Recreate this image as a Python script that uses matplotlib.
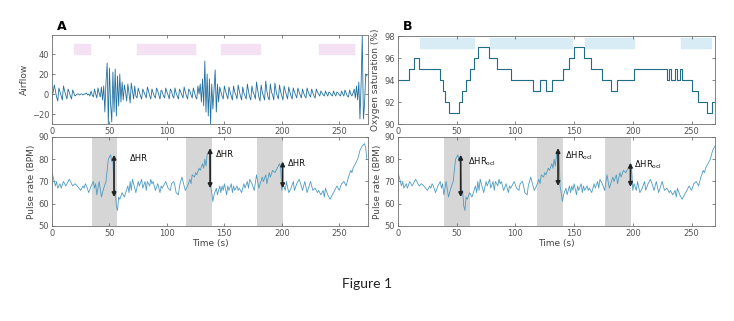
import matplotlib.pyplot as plt
import numpy as np

# airflow, one value per second from t=0
airflow = [-6, 2, 9, 3, -3, -7, 6, 2, -2, -6, 8, 3, -1, -5, 5, 2, -2, -5, 4, 1,
           -2, -1, 0, 0, -1, 0, 0, -1, 0, 0, 1, -1, 0, -2,
           3, -1, -3, 5, 0, -4, 6, 1, -3, 7, -6,
           8, -18, 12, 31, -30, 26, -10, -28, 22, -18, 25, -22, 18, -12, 20, -8, 12, -6,
           9, 2, -7, 10, 1, -9, 11, 3, -5, 8, -2, -4,
           6, 2, -2, -5, 5, 2, -1, -4, 7, 3, -2, -5, 5, 1, -2, -4, 6, 3, -1, -5,
           4, 2, -2, -4, 6, 2, -1, -5, 5, 3, -2, -4, 6, 1, -2, -5, 5, 2, -1, -4,
           7, 2, -2, -5, 5, 3, -1, -4, 6, 2,
           -3, -5, 8, 0, 10, -8, 15, -12, 33, -18, 20, -22, 15, -30, 10, -15, 5, 24, -18, 10, -8,
           7, 2, -2, -5, 8, 3, -1, -5, 7, 2, -2, -6, 8, 2, -1, -5, 9, 3, -2, -6,
           7, 1, -2, -5, 10, 3, -3, -6, 8, 2, -1, -5, 12, 4, -3, -7, 9, 2, -2, -6,
           13, 3, -3, -6, 10, 2, -1, -6, 11, 3, -2, -5, 9, 2, -2, -6, 8, 3, -1, -5,
           7, 2, -2, -5, 6, 2, -1, -4, 6, 2, -1, -4, 5, 1, -2, -4, 6, 2, -1, -3,
           5, 1, -2, -4, 5,
           2, 0, -2, 3, 1, -1, -2, 3, 0, -2, 2, 1, -1, -2, 3, 0, -2, 2, 1, -1,
           -2, 3, 0, -2, 4, 1, -2, -3, 4, 0, -2, 1,
           5, -4, 8, -6, 12, -25, 10, 58, -25, -10, 20, 18]

# pulse rate (BPM)
pulse_t = [0, 3, 4, 5, 7, 8, 10, 12, 15, 17, 18, 20, 22, 25, 27, 28, 29, 30, 32, 34, 36,
           37, 38, 39, 41, 43, 45, 47, 49, 51, 52, 53, 54, 55, 56, 57, 58, 59, 61, 63, 66,
           67, 68, 69, 70, 71, 73, 75, 76, 78, 79, 81, 82, 83, 85, 86, 87, 88, 90, 92, 94,
           95, 96, 98, 99, 101, 103, 104, 106, 107, 108, 110, 111, 113, 114, 116, 118,
           120, 121, 122, 124, 125, 126, 128, 129, 131, 132, 133, 134, 135, 136, 137,
           138, 139, 140, 141, 143, 144, 146, 147, 148, 149, 150, 152, 153, 154, 156,
           157, 158, 159, 161, 162, 163, 165, 167, 168, 170, 171, 172, 174, 176, 178,
           180, 183, 184, 186, 187, 189, 190, 192, 194, 196, 198, 199, 200, 201, 203,
           204, 206, 208, 210, 211, 213, 215, 217, 218, 220, 222, 225, 227, 229, 231,
           232, 234, 236, 237, 238, 240, 242, 244, 246, 248, 250, 252, 254, 256, 258,
           260, 261, 262, 264, 266, 268, 270, 272, 273, 274]
pulse_bpm = [74, 68, 70, 67, 69, 67, 70, 68, 71, 69, 68, 69, 68, 66, 68, 67, 69, 68, 65, 68, 70,
             67, 69, 64, 70, 63, 67, 70, 80, 82, 79, 80, 65, 66, 59, 57, 63, 62, 65, 63, 68,
             65, 70, 66, 71, 69, 65, 70, 68, 71, 67, 70, 66, 70, 68, 71, 69, 70, 66, 69, 65,
             68, 67, 69, 70, 67, 66, 69, 70, 68, 65, 64, 68, 72, 70, 66, 68,
             71, 69, 73, 72, 74, 73, 76, 75, 78, 76, 80, 77, 82, 83, 84,
             68, 65, 61, 64, 67, 64, 68, 65, 68, 66, 69, 64, 68, 66, 69,
             65, 68, 66, 68, 66, 67, 65, 69, 67, 70, 67, 71, 69, 66, 73,
             67, 72, 70, 73, 69, 74, 72, 75, 74, 76, 78, 76, 66, 69, 66,
             70, 65, 67, 70, 66, 69, 71, 68, 66, 70, 65, 70, 66, 67, 65,
             66, 64, 66, 63, 67, 64, 62, 64, 66, 68, 66, 69, 70, 68, 72,
             75, 74, 76, 78, 80, 84, 86, 87, 85, 80]

# oxygen saturation (%), level starting at each time
spo2_t = [0, 9.3, 13.5, 17.8, 36, 38, 40, 43.8, 51.7, 54.5, 58, 61.6, 65, 67.8, 77.7,
          84.7, 96, 115, 120.6, 126, 131, 140.7, 145.5, 150, 158, 164, 174, 181, 186.4,
          200.6, 228.8, 230.5, 232.5, 236, 237.5, 240, 241.5, 250, 255.6, 263, 267.5, 270]
spo2 = [94, 95, 96, 95, 94, 93, 92, 91, 92, 93, 94, 95, 96, 97, 96,
        95, 94, 93, 94, 93, 94, 95, 96, 97, 96, 95, 94, 93, 94,
        95, 94, 95, 94, 95, 94, 95, 94, 93, 92, 91, 92, 92]

pink_bars = [(19.4, 33.2), (73.7, 124.3), (147.4, 180.6), (232.7, 263)]
blue_bars = [(18.4, 65), (78.5, 148.3), (159.6, 201.4), (241, 267)]
shade_a = [(35, 57), (116.7, 139), (178.7, 200.7)]
shade_b = [(39.1, 60.9), (118.6, 140.6), (176.6, 198.6)]

# arrows: (time, top, bottom, label x, label y)
arrows_a = [(54, 82, 63, 68, 80.5), (137.6, 85, 67, 143, 82), (200.7, 79, 67, 205, 78.3)]
arrows_b = [(53.4, 82, 63, 59.4, 78.8), (136.3, 85, 68, 142, 81.5), (198, 78.4, 67.6, 201, 77.6)]

W, H = 734, 321
fig = plt.figure(figsize=(W / 100, H / 100), dpi=100)


def box(l, t, r, b):
    return [l / W, 1 - b / H, (r - l) / W, (b - t) / H]


def style(ax):
    for s in ax.spines.values():
        s.set_color('#6e6e6e')
        s.set_linewidth(0.6)
    ax.tick_params(direction='in', length=2, width=0.5, labelsize=6, colors='#555555',
                   top=True, right=True, pad=2)
    ax.yaxis.label.set_color('#444444')
    ax.xaxis.label.set_color('#444444')


ax1 = fig.add_axes(box(52, 35, 368, 124))
ax1.plot(np.arange(len(airflow)), airflow, color='#2270a0', lw=0.6)
ax1.broken_barh([(a, b - a) for a, b in pink_bars], (40, 10), color='#f4e1f4')
ax1.set_xlim(0, 275)
ax1.set_ylim(-30, 59)
ax1.set_yticks([-20, 0, 20, 40])
ax1.set_xticks([0, 50, 100, 150, 200, 250])
ax1.set_ylabel('Airflow', fontsize=6.5, labelpad=2)
style(ax1)

ax3 = fig.add_axes(box(398, 36, 715, 124))
ax3.plot(spo2_t, spo2, drawstyle='steps-post', color='#1f6d86', lw=0.8)
ax3.broken_barh([(a, b - a) for a, b in blue_bars], (96.9, 0.9), color='#d8ecf6')
ax3.set_xlim(0, 270)
ax3.set_ylim(90, 98)
ax3.set_yticks([90, 92, 94, 96, 98])
ax3.set_xticks([0, 50, 100, 150, 200, 250])
ax3.set_ylabel('Oxygen saturation (%)', fontsize=6.5, labelpad=3)
style(ax3)

for pos, shades, arrows, label, xmax in [((52, 137, 368, 226), shade_a, arrows_a, 'ΔHR', 275),
                                         ((398, 137, 715, 226), shade_b, arrows_b,
                                          'ΔHR$_{\\rm ocl}$', 270)]:
    ax = fig.add_axes(box(*pos))
    for a, b in shades:
        ax.axvspan(a, b, color='#d6d6d6', lw=0)
    ax.plot(pulse_t, pulse_bpm, color='#4d9cc2', lw=0.6)
    for t, top, bot, lx, ly in arrows:
        ax.annotate('', xy=(t, top), xytext=(t, bot),
                    arrowprops=dict(arrowstyle='<|-|>', color='#222222', lw=1.2,
                                    mutation_scale=6, shrinkA=0, shrinkB=0))
        ax.text(lx, ly, label, fontsize=6, color='#111111', va='center')
    ax.set_xlim(0, xmax)
    ax.set_ylim(50, 90)
    ax.set_yticks([50, 60, 70, 80, 90])
    ax.set_xticks([0, 50, 100, 150, 200, 250])
    ax.set_ylabel('Pulse rate (BPM)', fontsize=6.5, labelpad=2)
    ax.set_xlabel('Time (s)', fontsize=6.5, labelpad=1)
    style(ax)

fig.text(57 / W, 1 - 27 / H, 'A', fontsize=9, fontweight='bold', va='center')
fig.text(403 / W, 1 - 27 / H, 'B', fontsize=9, fontweight='bold', va='center')
fig.text(367 / W, 1 - 284 / H, 'Figure 1', fontsize=10, family='Lato', ha='center',
         va='center', color='#222222')

fig.savefig('out.png', dpi=100)
